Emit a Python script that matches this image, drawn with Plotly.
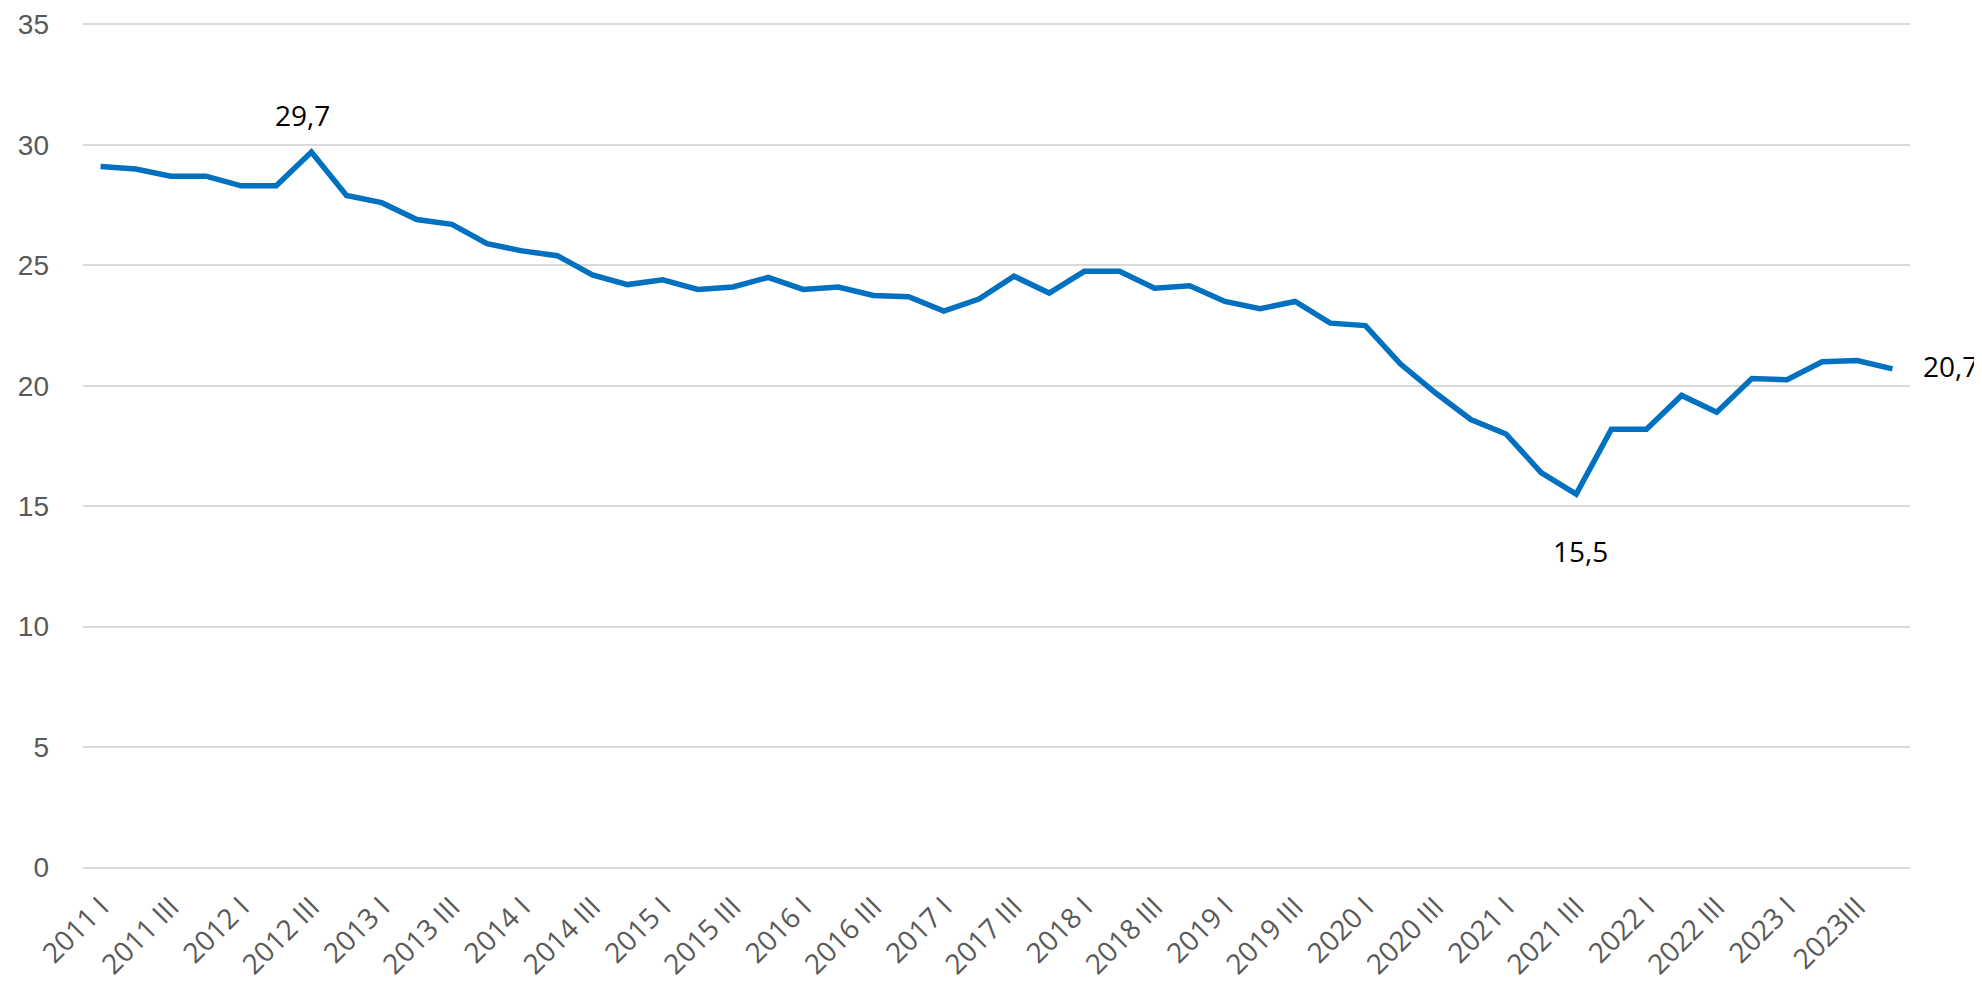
import plotly.graph_objects as go

years = list(range(2011, 2024))
quarters = ["I", "II", "III", "IV"]
categories = [f"{y} {q}" for y in years for q in quarters]

values = [29.1, 29.0, 28.7, 28.7, 28.3, 28.3, 29.7, 27.9, 27.6, 26.9,
          26.7, 25.9, 25.6, 25.4, 24.6, 24.2, 24.4, 24.0, 24.1, 24.5,
          24.0, 24.1, 23.75, 23.7, 23.1, 23.6, 24.55, 23.85, 24.75, 24.75,
          24.05, 24.15, 23.5, 23.2, 23.5, 22.6, 22.5, 20.9, 19.7, 18.6,
          18.0, 16.4, 15.5, 18.2, 18.2, 19.6, 18.9, 20.3, 20.25, 21.0,
          21.05, 20.7]

tick_vals = [c for c in categories if c.endswith(" I") or c.endswith(" III")]
tick_text = [c if c != "2023 III" else "2023III" for c in tick_vals]

labels = [("2012 III", "29,7"), ("2021 III", "15,5"), ("2023 IV", "20,7")]
y_ticks = [0, 5, 10, 15, 20, 25, 30, 35]

FONT = "Open Sans"
YFONT = "Liberation Sans"
GREY = "#595959"

fig = go.Figure()
fig.add_trace(go.Scatter(
    x=categories, y=values, mode="lines",
    line=dict(color="#0070C0", width=5.5),
    hoverinfo="skip", showlegend=False, cliponaxis=False,
))

val_by_cat = dict(zip(categories, values))
shifts = {"29,7": dict(xshift=-9, yshift=37, xanchor="center"),
          "15,5": dict(xshift=4, yshift=-57, xanchor="center"),
          "20,7": dict(xshift=29, yshift=3, xanchor="left")}
for cat, txt in labels:
    fig.add_annotation(x=cat, y=val_by_cat[cat], text=txt, showarrow=False,
                       font=dict(family=FONT, size=28, color="#000000"),
                       yanchor="middle", **shifts[txt])

fig.update_layout(
    width=1982, height=991,
    margin=dict(l=75, r=80, t=14, b=129, autoexpand=False),
    paper_bgcolor="white", plot_bgcolor="white",
    font=dict(family=FONT, color=GREY),
)
fig.update_xaxes(
    type="category", range=[-0.5, len(categories) - 0.5],
    tickmode="array", tickvals=tick_vals, ticktext=tick_text,
    tickangle=-45, tickfont=dict(family=FONT, size=28, color=GREY),
    showgrid=False, showline=False, zeroline=False, ticks="",
    ticklabelstandoff=14, automargin=False, ticklabeloverflow="allow",
)
fig.update_yaxes(
    range=[-0.1, 35.1], tickmode="array", tickvals=y_ticks,
    tickfont=dict(family=YFONT, size=28, color=GREY),
    showgrid=True, gridcolor="#D9D9D9", gridwidth=1.5,
    zeroline=False, showline=False, ticks="",
    ticklabelstandoff=33, automargin=False, ticklabeloverflow="allow",
)

fig.write_html("out.html")
